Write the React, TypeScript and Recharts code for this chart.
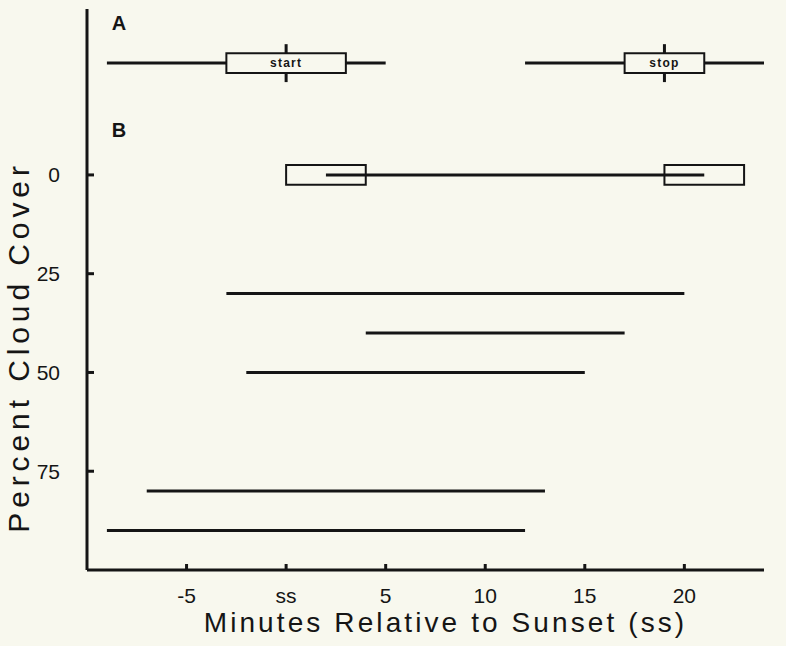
import {
  ComposedChart,
  Label,
  ReferenceArea,
  ReferenceDot,
  ReferenceLine,
  XAxis,
  YAxis,
} from "recharts";

const INK = "#151515";
const PAPER = "#f8f8ee";
const FONT = "'Liberation Sans', Arial, Helvetica, sans-serif";

// axes
const minuteTicks = [-5, 0, 5, 10, 15, 20];
const coverTicks = [0, 25, 50, 75];

// panel A: start / stop windows (range, box, mean)
const windowNames = ["start", "stop"];
const windowLo = [-9, 12];
const windowHi = [5, 24];
const windowBoxLo = [-3, 17];
const windowBoxHi = [3, 21];
const windowMean = [0, 19];
const panelARow = -28.3;

// panel B: singing period by cloud cover
const cloudCover = [0, 30, 40, 50, 80, 90];
const singFrom = [2, -3, 4, -2, -7, -9];
const singTo = [21, 20, 17, 15, 13, 12];
// boxes on the clear-sky row
const clearBoxLo = [0, 19];
const clearBoxHi = [4, 23];

const panelLabels = ["A", "B"];
const panelLabelY = [-38.5, -11.4];
const panelLabelX = -8.4;

const BOX_HALF = 2.5;
const MEAN_HALF = 4.8;

function YTick({ x, y, payload }: any) {
  return (
    <g>
      <line x1={x} x2={x + 7} y1={y} y2={y} stroke={INK} strokeWidth={3} />
      <text x={x - 27} y={y} dy="0.36em" textAnchor="end" fill={INK} fontSize={21} fontFamily={FONT}>
        {payload.value}
      </text>
    </g>
  );
}

function XTick({ x, y, payload }: any) {
  const v = payload.value === 0 ? "ss" : String(payload.value);
  return (
    <g>
      <line x1={x} x2={x} y1={y - 6} y2={y} stroke={INK} strokeWidth={3} />
      <text x={x} y={y + 33} textAnchor="middle" fill={INK} fontSize={21} fontFamily={FONT}>
        {v}
      </text>
    </g>
  );
}

export default function App() {
  return (
    <div style={{ position: "absolute", left: 0, top: 0, width: 786, height: 646, background: PAPER }}>
      <ComposedChart width={786} height={646} margin={{ top: 9, right: 22, left: 0, bottom: 0 }}>
        <XAxis
          type="number"
          dataKey="x"
          domain={[-10, 24]}
          ticks={minuteTicks}
          allowDataOverflow
          height={76}
          tickSize={0}
          tickMargin={0}
          tickLine={false}
          tick={<XTick />}
          axisLine={{ stroke: INK, strokeWidth: 3 }}
        >
          <Label
            content={({ viewBox }: any) => (
              <text
                x={viewBox.x + viewBox.width / 2 + 20}
                y={viewBox.y + 62}
                textAnchor="middle"
                fill={INK}
                fontSize={28}
                letterSpacing={3.1}
                fontFamily={FONT}
              >
                Minutes Relative to Sunset (ss)
              </text>
            )}
          />
        </XAxis>
        <YAxis
          type="number"
          domain={[-42, 100]}
          ticks={coverTicks}
          reversed
          allowDataOverflow
          width={87}
          tickSize={0}
          tickMargin={0}
          tickLine={false}
          tick={<YTick />}
          axisLine={{ stroke: INK, strokeWidth: 3 }}
        >
          <Label
            content={({ viewBox }: any) => (
              <text
                x={viewBox.x + 29}
                y={347}
                transform={`rotate(-90, ${viewBox.x + 29}, 347)`}
                textAnchor="middle"
                fill={INK}
                fontSize={30}
                letterSpacing={4.9}
                fontFamily={FONT}
              >
                Percent Cloud Cover
              </text>
            )}
          />
        </YAxis>

        {/* B: boxes on the clear row, under the line */}
        {clearBoxLo.map((lo, i) => (
          <ReferenceArea
            key={`cb${i}`}
            x1={lo}
            x2={clearBoxHi[i]}
            y1={cloudCover[0] - BOX_HALF}
            y2={cloudCover[0] + BOX_HALF}
            fill={PAPER}
            fillOpacity={1}
            stroke={INK}
            strokeWidth={2}
          />
        ))}
        {cloudCover.map((c, i) => (
          <ReferenceLine
            key={`s${i}`}
            segment={[
              { x: singFrom[i], y: c },
              { x: singTo[i], y: c },
            ]}
            stroke={INK}
            strokeWidth={3}
          />
        ))}

        {/* A: whiskers split at the box edges so the box reads on top */}
        {windowNames.map((n, i) => (
          <ReferenceLine
            key={`wl${i}`}
            segment={[
              { x: windowLo[i], y: panelARow },
              { x: windowBoxLo[i], y: panelARow },
            ]}
            stroke={INK}
            strokeWidth={3}
          />
        ))}
        {windowNames.map((n, i) => (
          <ReferenceLine
            key={`wh${i}`}
            segment={[
              { x: windowBoxHi[i], y: panelARow },
              { x: windowHi[i], y: panelARow },
            ]}
            stroke={INK}
            strokeWidth={3}
          />
        ))}
        {windowMean.map((m, i) => (
          <ReferenceLine
            key={`mt${i}`}
            segment={[
              { x: m, y: panelARow - MEAN_HALF },
              { x: m, y: panelARow - BOX_HALF },
            ]}
            stroke={INK}
            strokeWidth={3}
          />
        ))}
        {windowMean.map((m, i) => (
          <ReferenceLine
            key={`mb${i}`}
            segment={[
              { x: m, y: panelARow + BOX_HALF },
              { x: m, y: panelARow + MEAN_HALF },
            ]}
            stroke={INK}
            strokeWidth={3}
          />
        ))}
        {windowNames.map((n, i) => (
          <ReferenceArea
            key={`wb${i}`}
            x1={windowBoxLo[i]}
            x2={windowBoxHi[i]}
            y1={panelARow - BOX_HALF}
            y2={panelARow + BOX_HALF}
            fill={PAPER}
            fillOpacity={1}
            stroke={INK}
            strokeWidth={2}
            label={{
              value: n,
              position: "center",
              fill: INK,
              fontSize: 12,
              fontWeight: "bold",
              letterSpacing: 1.2,
              fontFamily: FONT,
            }}
          />
        ))}

        {panelLabels.map((t, i) => (
          <ReferenceDot
            key={t}
            x={panelLabelX}
            y={panelLabelY[i]}
            r={1}
            fill="none"
            stroke="none"
            label={{ value: t, position: "center", fill: INK, fontSize: 20, fontWeight: "bold", fontFamily: FONT }}
          />
        ))}
      </ComposedChart>
    </div>
  );
}
